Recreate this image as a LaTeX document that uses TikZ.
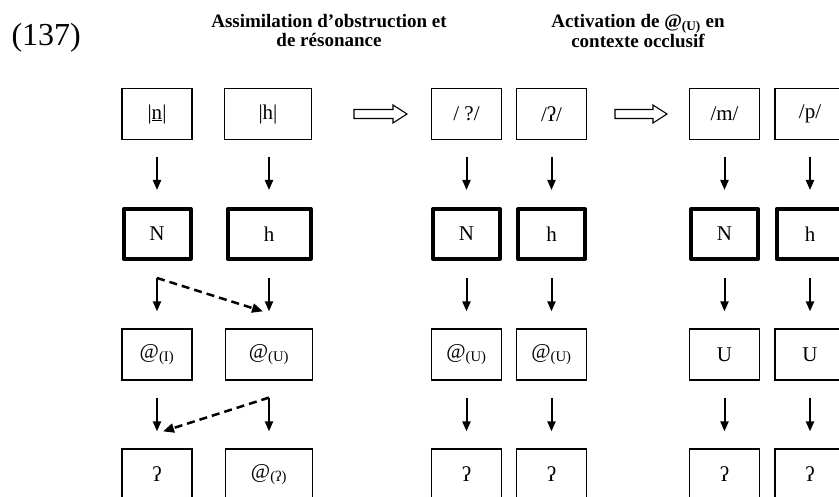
\documentclass[tikz,border=0pt]{standalone}
\usepackage{fontspec}
\setmainfont{Liberation Serif}
\usetikzlibrary{arrows.meta}

\begin{document}
\begin{tikzpicture}[x=1pt,y=-1pt,
  seg/.style={draw,line width=1.2pt,minimum width=70pt,minimum height=51pt,inner sep=0pt,font=\fontsize{21}{21}\selectfont},
  segwide/.style={seg,minimum width=87pt},
  core/.style={seg,line width=4pt,line join=round,minimum width=67pt,minimum height=50pt},
  corewide/.style={core,minimum width=83pt},
  arr/.style={line width=2pt,-{Triangle[length=10pt,width=8pt]},shorten <=17pt,shorten >=17pt},
  dasharr/.style={line width=2.5pt,dash pattern=on 8pt off 5pt,line join=miter,-{Triangle[length=11pt,width=9pt]}},
  hollow/.style={line width=1.1pt,line join=miter},
  title/.style={align=center,font=\fontsize{19}{19}\selectfont\bfseries}]
\useasboundingbox (0,0) rectangle (839,497);
\clip (0,0) rectangle (839,497);
\node[anchor=base west,font=\fontsize{32}{32}\selectfont] (ex) at (8,46) {(137)};
\node[title] (t1) at (329,31) {Assimilation d’obstruction et\\de résonance};
\node[title] (t2) at (638,31) {Activation de @\textsubscript{(U)} en\\contexte occlusif};
\node[seg] (n1) at (157,114) {|\underline{n}|};
\node[segwide] (h1) at (268,114) {|h|};
\node[corewide] (Nh1) at (269,234) {h};
\node[core] (N1) at (157,234) {N};
\node[seg] (i1) at (157,354.5) {@\textsubscript{(I)}};
\node[segwide] (u1) at (269,354.5) {@\textsubscript{(U)}};
\node[seg] (q1) at (157,474.5) {ʔ};
\node[segwide] (g1) at (269,474.5) {@\textsubscript{(ʔ)}};
\draw[arr] (n1) -- (N1);
\draw[arr] (h1.south -| Nh1) -- (Nh1);
\draw[arr] (N1) -- (i1);
\draw[arr] (Nh1) -- (u1);
\draw[arr] (i1) -- (q1);
\draw[arr] (u1) -- (g1);
\draw[dasharr] ([yshift=-17pt]N1.south) -- ([xshift=-6pt,yshift=17pt]u1.north);
\draw[dasharr] ([yshift=-17pt]u1.south) -- ([xshift=6pt,yshift=17pt]q1.north);
\draw[hollow] (354,109.5) -- (393,109.5) -- (393,105) -- (407,114) -- (393,123) -- (393,118.5) -- (354,118.5) -- cycle;
\node[seg] (q2) at (466.5,114) {/ ?/};
\node[seg] (g2) at (551.5,114) {/ʔ/};
\node[core] (N2) at (466.5,234) {N};
\node[core] (h2) at (551.5,234) {h};
\node[seg] (ua2) at (466.5,354.5) {@\textsubscript{(U)}};
\node[seg] (ub2) at (551.5,354.5) {@\textsubscript{(U)}};
\node[seg] (qa2) at (466.5,474.5) {ʔ};
\node[seg] (qb2) at (551.5,474.5) {ʔ};
\draw[arr] (q2) -- (N2);
\draw[arr] (g2) -- (h2);
\draw[arr] (N2) -- (ua2);
\draw[arr] (h2) -- (ub2);
\draw[arr] (ua2) -- (qa2);
\draw[arr] (ub2) -- (qb2);
\draw[hollow] (615,109.5) -- (653,109.5) -- (653,105) -- (667,114) -- (653,123) -- (653,118.5) -- (615,118.5) -- cycle;
\node[seg] (m3) at (724.5,114) {/m/};
\node[seg] (p3) at (810,114) {/p/};
\node[core] (N3) at (724.5,234) {N};
\node[core] (h3) at (810,234) {h};
\node[seg] (ua3) at (724.5,354.5) {U};
\node[seg] (ub3) at (810,354.5) {U};
\node[seg] (qa3) at (724.5,474.5) {ʔ};
\node[seg] (qb3) at (810,474.5) {ʔ};
\draw[arr] (m3) -- (N3);
\draw[arr] (p3) -- (h3);
\draw[arr] (N3) -- (ua3);
\draw[arr] (h3) -- (ub3);
\draw[arr] (ua3) -- (qa3);
\draw[arr] (ub3) -- (qb3);
\end{tikzpicture}
\end{document}
